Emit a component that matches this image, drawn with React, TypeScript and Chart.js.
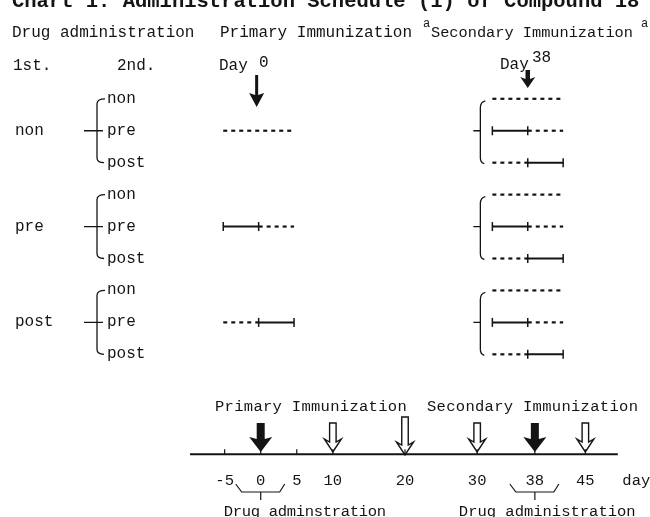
import React, { useEffect, useRef } from 'react';
import { Chart, registerables } from 'chart.js';

Chart.register(...registerables);

// ---- data ----
const firstLabels = ['non', 'pre', 'post'];
const secondLabels = ['non', 'pre', 'post'];
const primaryDay = 0;
const secondaryDay = 38;
const drugSpan = 5;
const timelineTicks = [-5, 0, 5, 10, 20, 30, 38, 45];
const immunizationDays = [0, 38];
const samplingDays = [10, 20, 30, 45];
const timelineRange = [-9.8, 49.5];
const drugLabels = ['Drug adminstration', 'Drug administration'];

const TITLE = 'Chart 1. Administration Schedule (1) of Compound 18';
const FONT = '"Liberation Mono", "DejaVu Sans Mono", monospace';
const INK = '#141414';
const TIMELINE_ROW = 11.131;

type Seg = { a: number; b: number; solid: boolean };

function segments(mode: string, day: number): Seg[] {
  if (mode === 'pre') return [{ a: day - drugSpan, b: day, solid: true }, { a: day, b: day + drugSpan, solid: false }];
  if (mode === 'post') return [{ a: day - drugSpan, b: day, solid: false }, { a: day, b: day + drugSpan, solid: true }];
  return [{ a: day - drugSpan, b: day + drugSpan, solid: false }];
}

function segDataset(s: Seg, row: number) {
  return {
    data: [{ x: s.a, y: row }, { x: s.b, y: row }],
    xAxisID: 'x',
    yAxisID: 'y',
    borderColor: INK,
    borderWidth: s.solid ? 2 : 2.2,
    borderDash: s.solid ? [] : [4, 4],
    pointStyle: 'line',
    rotation: 90,
    pointRadius: s.solid ? 4.5 : 0,
    pointBorderWidth: 1.5,
    pointBorderColor: INK,
    pointBackgroundColor: INK,
  };
}

function buildDatasets() {
  const ds: any[] = [];
  firstLabels.forEach((f, g) => {
    segments(f, primaryDay).forEach((s) => ds.push(segDataset(s, g * 3 + 1)));
    secondLabels.forEach((m, k) => {
      segments(m, secondaryDay).forEach((s) => ds.push(segDataset(s, g * 3 + k)));
    });
  });
  ds.push({
    data: timelineRange.map((d) => ({ x: d, y: TIMELINE_ROW })),
    xAxisID: 'x2',
    yAxisID: 'y',
    borderColor: INK,
    borderWidth: 2,
    pointRadius: 0,
  });
  return ds;
}

function filledArrow(ctx: CanvasRenderingContext2D, cx: number, top: number, bottom: number, sw: number, hw: number, hh: number) {
  ctx.beginPath();
  ctx.moveTo(cx - sw / 2, top);
  ctx.lineTo(cx + sw / 2, top);
  ctx.lineTo(cx + sw / 2, bottom - hh);
  ctx.lineTo(cx + hw / 2, bottom - hh - 2);
  ctx.lineTo(cx, bottom);
  ctx.lineTo(cx - hw / 2, bottom - hh - 2);
  ctx.lineTo(cx - sw / 2, bottom - hh);
  ctx.closePath();
  ctx.fill();
}

function hollowArrow(ctx: CanvasRenderingContext2D, cx: number, top: number, bottom: number, sw: number, hw: number, hh: number) {
  ctx.beginPath();
  ctx.moveTo(cx - sw / 2, top);
  ctx.lineTo(cx + sw / 2, top);
  ctx.lineTo(cx + sw / 2, bottom - hh);
  ctx.lineTo(cx + hw / 2, bottom - hh - 3);
  ctx.lineTo(cx, bottom);
  ctx.lineTo(cx - hw / 2, bottom - hh - 3);
  ctx.lineTo(cx - sw / 2, bottom - hh);
  ctx.closePath();
  ctx.lineWidth = 1.4;
  ctx.stroke();
}

const drawPlugin = {
  id: 'schedule',
  afterDatasetsDraw(chart: any) {
    const ctx: CanvasRenderingContext2D = chart.ctx;
    const x = chart.scales.x;
    const x2 = chart.scales.x2;
    const y = chart.scales.y;
    ctx.save();
    ctx.fillStyle = INK;
    ctx.strokeStyle = INK;
    const t = (s: string, px: number, py: number, size = 16, align: CanvasTextAlign = 'left', weight = 'normal', spacing = '0px') => {
      ctx.font = `${weight} ${size}px ${FONT}`;
      (ctx as any).letterSpacing = spacing;
      ctx.textAlign = align;
      ctx.textBaseline = 'alphabetic';
      ctx.fillText(s, px, py);
    };

    // title (cut off at top)
    t(TITLE, 12, 7, 20.5, 'left', 'bold');

    // headers
    t('Drug administration', 12, 37);
    t('Primary Immunization', 220, 37);
    t('a', 423, 27, 12);
    t('Secondary Immunization', 431, 37, 15.3);
    t('a', 641, 27, 12);
    t('1st.', 13, 70);
    t('2nd.', 117, 70);
    t('Day', 219, 70);
    t(String(primaryDay), 259, 67);
    t('Day', 500, 69);
    t(String(secondaryDay), 532, 62);

    // top arrows
    filledArrow(ctx, x.getPixelForValue(primaryDay) - 2, 75, 107, 3, 15, 12);
    filledArrow(ctx, x.getPixelForValue(secondaryDay), 70, 88, 4.5, 15, 9);

    // left labels and brackets
    firstLabels.forEach((f, g) => {
      const y0 = y.getPixelForValue(g * 3);
      const y1 = y.getPixelForValue(g * 3 + 1);
      const y2 = y.getPixelForValue(g * 3 + 2);
      t(f, 15, y1 + 4);
      secondLabels.forEach((m, k) => t(m, 107, y.getPixelForValue(g * 3 + k) + 4));
      ctx.lineWidth = 1.3;
      ctx.beginPath();
      ctx.moveTo(105, y0);
      ctx.quadraticCurveTo(97, y0, 97, y0 + 5);
      ctx.lineTo(97, y2 - 5);
      ctx.quadraticCurveTo(97, y2, 104, y2);
      ctx.moveTo(97, y1);
      ctx.lineTo(103, y1);
      ctx.moveTo(84, y1);
      ctx.lineTo(97, y1);
      ctx.stroke();

      // secondary brace
      const bx = x.getPixelForValue(secondaryDay - drugSpan) - 12;
      ctx.beginPath();
      ctx.moveTo(bx + 5, y0 + 2);
      ctx.quadraticCurveTo(bx, y0 + 3, bx, y0 + 9);
      ctx.lineTo(bx, y2 - 5);
      ctx.quadraticCurveTo(bx, y2, bx + 4, y2 + 1);
      ctx.moveTo(bx - 7, y1);
      ctx.lineTo(bx, y1);
      ctx.stroke();
    });

    // bottom timeline
    const ty = y.getPixelForValue(TIMELINE_ROW);
    t('Primary Immunization', 215, 411, 15.5, 'left', 'normal', '0.3px');
    t('Secondary Immunization', 427, 411, 15.5, 'left', 'normal', '0.3px');

    ctx.lineWidth = 1.2;
    timelineTicks.forEach((d) => {
      const px = x2.getPixelForValue(d);
      ctx.beginPath();
      ctx.moveTo(px, ty - 5);
      ctx.lineTo(px, ty);
      ctx.stroke();
      t(String(d), px, 485, 15.5, 'center');
    });
    t('day', x2.getPixelForValue(timelineTicks[timelineTicks.length - 1]) + 37, 485, 15.5);

    immunizationDays.forEach((d) => filledArrow(ctx, x2.getPixelForValue(d), 423, 452, 8, 23, 13));
    samplingDays.forEach((d) => {
      const tall = d === 20;
      hollowArrow(ctx, x2.getPixelForValue(d), tall ? 417 : 423, tall ? 455 : 452, 6.5, 17, 10);
    });

    // drug administration brackets
    immunizationDays.forEach((d, i) => {
      const cx = x2.getPixelForValue(d);
      ctx.lineWidth = 1.2;
      ctx.beginPath();
      ctx.moveTo(cx - 25, 484);
      ctx.lineTo(cx - 19, 492);
      ctx.lineTo(cx + 19, 492);
      ctx.lineTo(cx + 24, 484);
      ctx.moveTo(cx, 492);
      ctx.lineTo(cx, 500);
      ctx.stroke();
      t(drugLabels[i], cx - (i === 0 ? 37 : 76), 516, 15.5, 'left', 'normal', i === 0 ? '-0.3px' : '0px');
    });

    ctx.restore();
  },
};

export default function App() {
  const ref = useRef<HTMLCanvasElement | null>(null);
  useEffect(() => {
    if (!ref.current) return;
    const chart = new Chart(ref.current, {
      type: 'line',
      data: { datasets: buildDatasets() as any },
      options: {
        animation: false,
        responsive: false,
        events: [],
        layout: { padding: 0 },
        plugins: { legend: { display: false }, tooltip: { enabled: false } },
        scales: {
          x: { type: 'linear', display: false, min: -35.676, max: 54.414 },
          x2: { type: 'linear', axis: 'x', display: false, min: -35.306, max: 53.129 },
          y: { type: 'linear', display: false, reverse: true, min: -2.905, max: 12.905 },
        },
      },
      plugins: [drawPlugin],
    });
    return () => chart.destroy();
  }, []);
  return (
    <div style={{ position: 'absolute', left: 0, top: 0, width: 650, height: 517, background: '#fff' }}>
      <canvas ref={ref} width={650} height={517} />
    </div>
  );
}
